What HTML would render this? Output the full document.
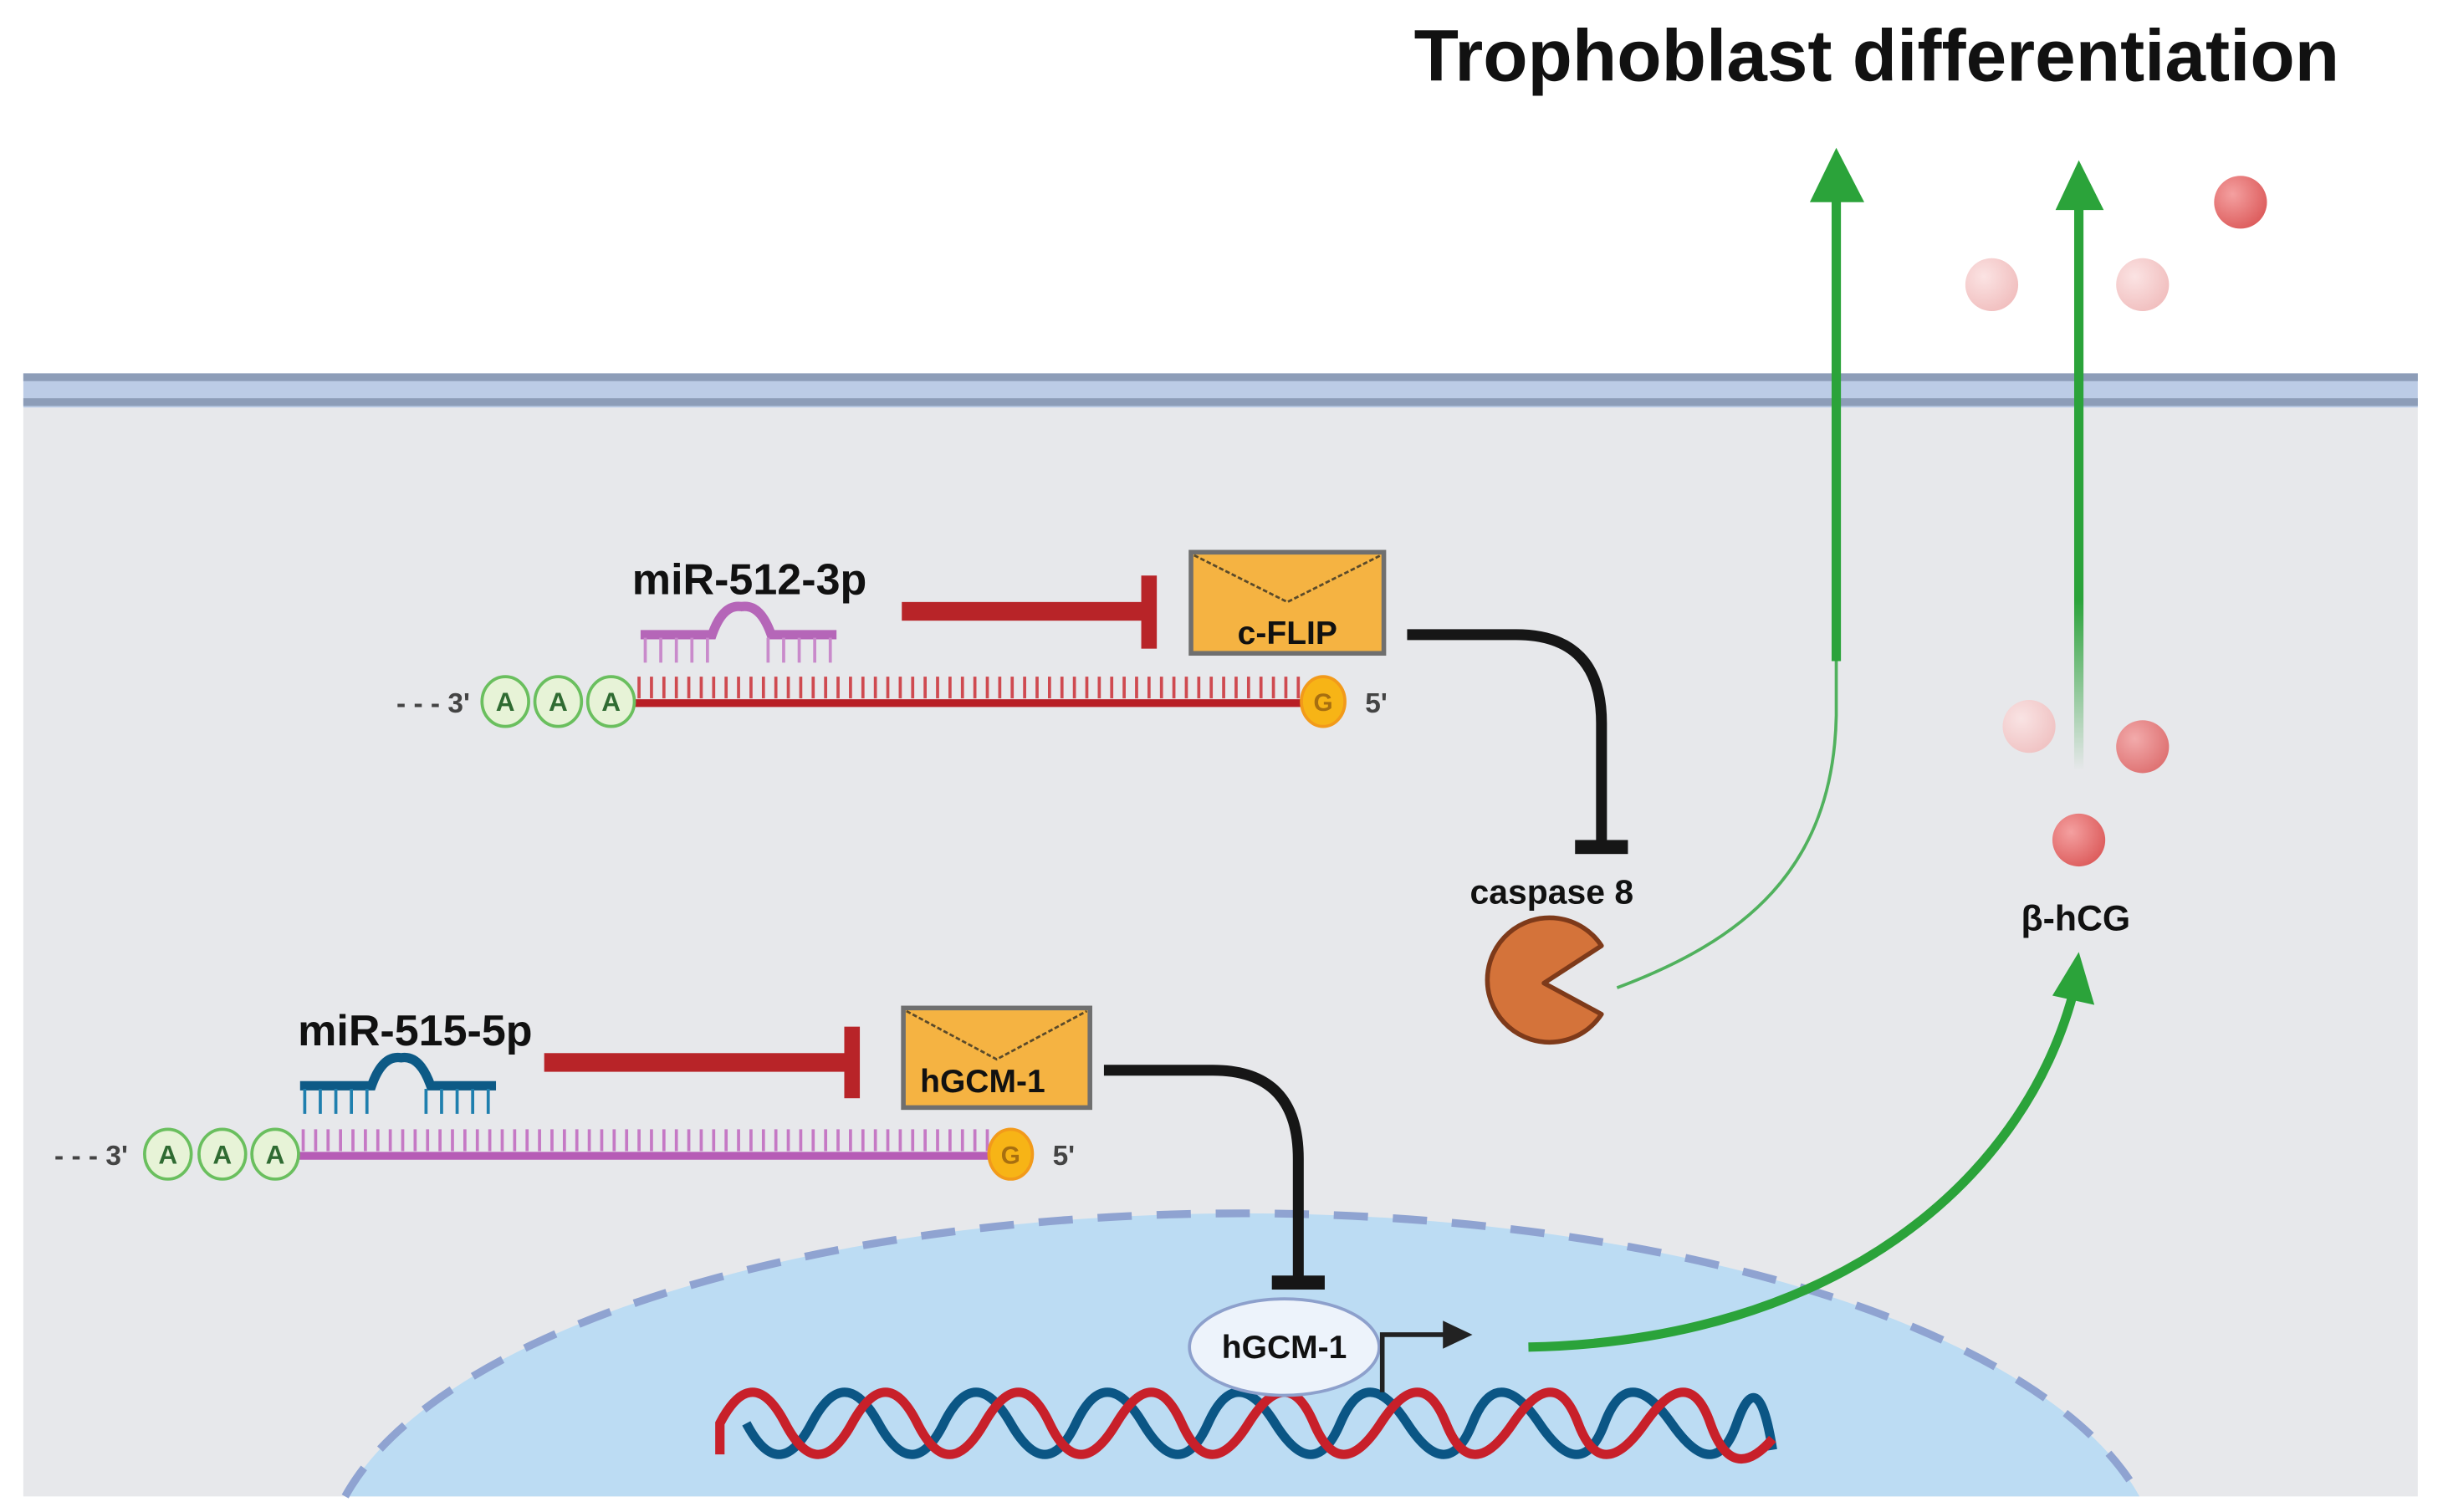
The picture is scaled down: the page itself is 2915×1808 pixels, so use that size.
<!DOCTYPE html>
<html><head><meta charset="utf-8"><style>
html,body{margin:0;padding:0;background:#fff;width:2915px;height:1808px;overflow:hidden;}
svg{display:block;}
text{font-family:"Liberation Sans",sans-serif;font-weight:bold;}
</style></head><body>
<svg width="2915" height="1808" viewBox="0 0 1568 972" preserveAspectRatio="none" xmlns="http://www.w3.org/2000/svg">
<defs>
<radialGradient id="ball" cx="0.35" cy="0.35" r="0.7"><stop offset="0" stop-color="#f4a0a0"/><stop offset="1" stop-color="#dd5d5d"/></radialGradient>
<radialGradient id="ballf" cx="0.35" cy="0.35" r="0.7"><stop offset="0" stop-color="#fbe3e3"/><stop offset="1" stop-color="#f1bfbf"/></radialGradient>
<linearGradient id="fadeUp" x1="0" y1="1" x2="0" y2="0"><stop offset="0" stop-color="#2ba33a" stop-opacity="0"/><stop offset="0.3" stop-color="#2ba33a"/><stop offset="1" stop-color="#2ba33a"/></linearGradient>
</defs>
<rect width="1568" height="972" fill="#fff"/>
<text x="1207" y="52" font-size="47" text-anchor="middle" fill="#111">Trophoblast differentiation</text>
<rect x="15" y="262" width="1540" height="700" fill="#e7e8eb"/>
<rect x="15" y="240" width="1540" height="22" fill="#bccce6"/>
<rect x="15" y="240" width="1540" height="5" fill="#8d9db8"/>
<rect x="15" y="256" width="1540" height="5" fill="#8d9db8"/>
<path d="M222,962 A590,230 0 0 1 1376,962 Z" fill="#bcdcf3"/>
<path d="M222,962 A590,230 0 0 1 1376,962" fill="none" stroke="#8fa3d1" stroke-width="5" stroke-dasharray="22 16"/>
<path d="M480,915 Q501,955 522,915 T565,915 T607,915 T650,915 T692,915 T735,915 T777,915 T820,915 T862,915 T905,915 T947,915 T990,915 T1032,915 T1075,915 T1117,915 T1140,932" fill="none" stroke="#0b5685" stroke-width="6"/>
<path d="M463,935 L463,915 Q484,875 505,915 T548,915 T590,915 T633,915 T675,915 T718,915 T760,915 T803,915 T845,915 T888,915 T930,915 T973,915 T1015,915 T1058,915 T1100,915 T1140,925" fill="none" stroke="#c8202a" stroke-width="6"/>
<ellipse cx="826" cy="866" rx="61" ry="31" fill="#edf3fb" stroke="#8da0cc" stroke-width="2"/>
<text x="826" y="873" font-size="21" text-anchor="middle" fill="#111">hGCM-1</text>
<path d="M889,895 V858 H930" fill="none" stroke="#222" stroke-width="3"/>
<polygon points="928,849 947,858 928,867" fill="#222"/>
<path d="M983,866 C1180,862 1300,760 1333,640" fill="none" stroke="#2ba33a" stroke-width="6"/>
<polygon points="1320,640 1337,612 1347,646" fill="#2ba33a"/>
<path d="M710,688 H780 Q835,688 835,745 V822" fill="none" stroke="#161616" stroke-width="7"/>
<rect x="818" y="820" width="34" height="9" fill="#161616"/>
<path d="M905,408 H975 Q1030,408 1030,465 V542" fill="none" stroke="#161616" stroke-width="7"/>
<rect x="1013" y="540" width="34" height="9" fill="#161616"/>
<text x="998" y="581" font-size="22" text-anchor="middle" fill="#111">caspase 8</text>
<path d="M1030,608 A40,40 0 1 0 1030,652 L993,632 Z" fill="#d4733a" stroke="#7e3a1a" stroke-width="3" stroke-linejoin="round"/>
<path d="M1040,635 C1120,605 1179,560 1181,460 L1181,125" fill="none" stroke="#2ba33a" stroke-width="2" stroke-opacity="0.8"/>
<rect x="1178" y="125" width="6" height="300" fill="#2ba33a"/>
<polygon points="1164,130 1181,95 1199,130" fill="#2ba33a"/>
<rect x="1334" y="130" width="6" height="365" fill="url(#fadeUp)"/>
<polygon points="1322,135 1337,103 1353,135" fill="#2ba33a"/>
<circle cx="1281" cy="183" r="17" fill="url(#ballf)"/>
<circle cx="1378" cy="183" r="17" fill="url(#ballf)"/>
<circle cx="1441" cy="130" r="17" fill="url(#ball)"/>
<circle cx="1305" cy="467" r="17" fill="url(#ballf)" opacity="0.9"/>
<circle cx="1378" cy="480" r="17" fill="url(#ball)" opacity="0.85"/>
<circle cx="1337" cy="540" r="17" fill="url(#ball)"/>
<text x="1335" y="598" font-size="23" text-anchor="middle" fill="#111">β-hCG</text>
<rect x="766" y="355" width="124" height="65" fill="#f5b342" stroke="#6f6f6f" stroke-width="3"/>
<polyline points="768,357 828,387 888,357" fill="none" stroke="#5a4a2a" stroke-width="1.5" stroke-dasharray="3 1.5"/>
<text x="828" y="414" font-size="21" text-anchor="middle" fill="#111">c-FLIP</text>
<rect x="581" y="648" width="120" height="64" fill="#f5b342" stroke="#6f6f6f" stroke-width="3"/>
<polyline points="583,650 641,681 699,650" fill="none" stroke="#5a4a2a" stroke-width="1.5" stroke-dasharray="3 1.5"/>
<text x="632" y="702" font-size="21" text-anchor="middle" fill="#111">hGCM-1</text>
<rect x="580" y="387" width="158" height="12" fill="#b82428"/>
<rect x="734" y="370" width="10" height="47" fill="#b82428"/>
<rect x="350" y="677" width="195" height="12" fill="#b82428"/>
<rect x="543" y="660" width="10" height="46" fill="#b82428"/>
<text x="482" y="382" font-size="28" text-anchor="middle" fill="#111">miR-512-3p</text>
<path d="M412,408 H458 Q465,388 477,390 Q489,388 496,408 H538" fill="none" stroke="#b566b8" stroke-width="6"/>
<line x1="414" y1="418" x2="458" y2="418" stroke="#c98acb" stroke-width="16" stroke-dasharray="2 8"/>
<line x1="493" y1="418" x2="537" y2="418" stroke="#c98acb" stroke-width="16" stroke-dasharray="2 8"/>
<text x="255" y="458" font-size="18" fill="#444" font-weight="normal">- - - 3'</text>
<line x1="408" y1="452" x2="843" y2="452" stroke="#b81e25" stroke-width="5"/>
<line x1="410" y1="442" x2="840" y2="442" stroke="#cf4a50" stroke-width="14" stroke-dasharray="2 6"/>
<g fill="#e7f3d7" stroke="#6abf5e" stroke-width="2">
<ellipse cx="325" cy="451" rx="15" ry="16"/><ellipse cx="359" cy="451" rx="15" ry="16"/><ellipse cx="393" cy="451" rx="15" ry="16"/></g>
<g font-size="17" font-weight="normal" fill="#2f6b32" text-anchor="middle"><text x="325" y="457">A</text><text x="359" y="457">A</text><text x="393" y="457">A</text></g>
<ellipse cx="851" cy="451" rx="14" ry="16" fill="#f7b416" stroke="#f29a1a" stroke-width="2"/>
<text x="851" y="457" font-size="16" font-weight="normal" text-anchor="middle" fill="#a76f10">G</text>
<text x="878" y="458" font-size="18" font-weight="normal" fill="#444">5'</text>
<text x="267" y="672" font-size="28" text-anchor="middle" fill="#111">miR-515-5p</text>
<path d="M193,698 H239 Q246,678 258,680 Q270,678 277,698 H319" fill="none" stroke="#0d5a86" stroke-width="6"/>
<line x1="195" y1="708" x2="240" y2="708" stroke="#1f7fae" stroke-width="16" stroke-dasharray="2 8"/>
<line x1="273" y1="708" x2="318" y2="708" stroke="#1f7fae" stroke-width="16" stroke-dasharray="2 8"/>
<text x="35" y="749" font-size="18" fill="#444" font-weight="normal">- - - 3'</text>
<line x1="192" y1="743" x2="640" y2="743" stroke="#b65cb6" stroke-width="5"/>
<line x1="194" y1="733" x2="637" y2="733" stroke="#c579c5" stroke-width="14" stroke-dasharray="2 6"/>
<g fill="#e7f3d7" stroke="#6abf5e" stroke-width="2">
<ellipse cx="108" cy="742" rx="15" ry="16"/><ellipse cx="143" cy="742" rx="15" ry="16"/><ellipse cx="177" cy="742" rx="15" ry="16"/></g>
<g font-size="17" font-weight="normal" fill="#2f6b32" text-anchor="middle"><text x="108" y="748">A</text><text x="143" y="748">A</text><text x="177" y="748">A</text></g>
<ellipse cx="650" cy="742" rx="14" ry="16" fill="#f7b416" stroke="#f29a1a" stroke-width="2"/>
<text x="650" y="748" font-size="16" font-weight="normal" text-anchor="middle" fill="#a76f10">G</text>
<text x="677" y="749" font-size="18" font-weight="normal" fill="#444">5'</text>
</svg>
</body></html>
